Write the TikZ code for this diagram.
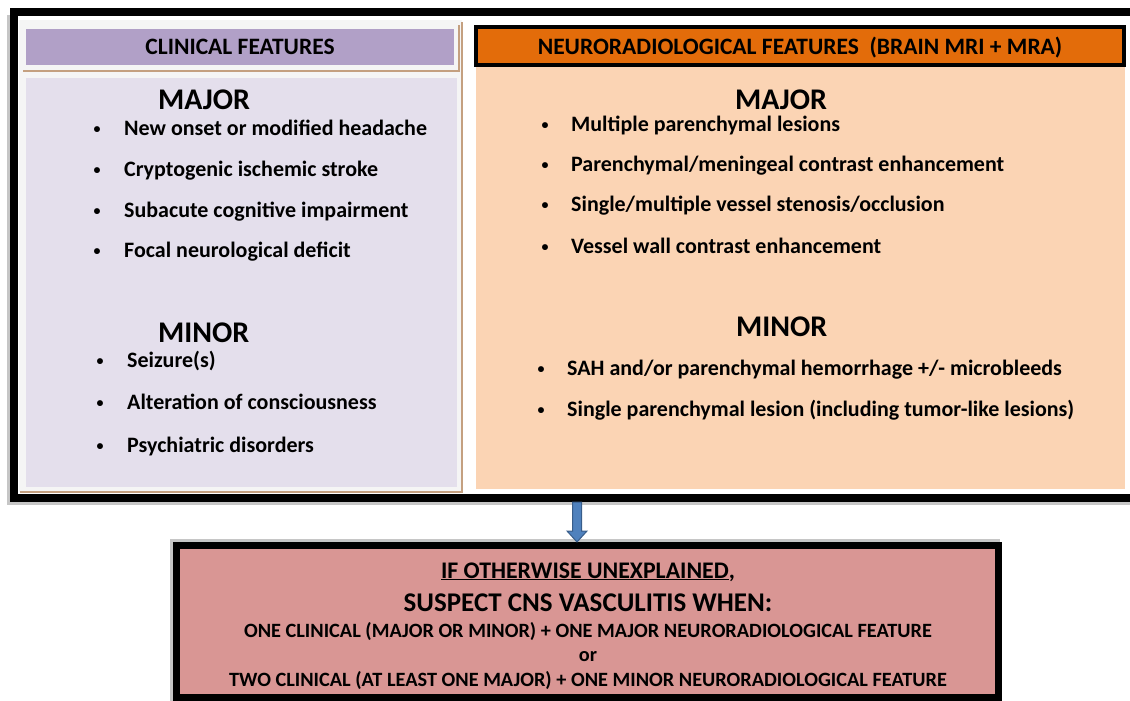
\documentclass[tikz,border=0pt]{standalone}
\usepackage{fontspec}
\setmainfont{Carlito}
\usetikzlibrary{positioning,calc}
\definecolor{lavender}{RGB}{228,223,236}
\definecolor{clinpurple}{RGB}{177,160,199}
\definecolor{tanline}{RGB}{196,160,128}
\definecolor{radorange}{RGB}{227,108,10}
\definecolor{peach}{RGB}{251,212,180}
\definecolor{verdictrose}{RGB}{217,150,148}
\definecolor{arrowblue}{RGB}{79,129,189}
\definecolor{arrowedge}{RGB}{56,93,138}
\tikzset{
  item/.style={anchor=base west, inner sep=0pt, font=\fontsize{22}{26}\selectfont\bfseries},
  dot/.style={anchor=base, inner sep=0pt, font=\fontsize{14}{18}\selectfont\bfseries},
  grade/.style={anchor=base west, inner sep=0pt, font=\fontsize{30}{34}\selectfont\bfseries},
  headbox/.style={minimum height=36pt, inner sep=0pt, font=\fontsize{23.5}{27}\selectfont\bfseries},
  rule/.style={anchor=base, inner sep=0pt, font=\fontsize{20.3}{24}\selectfont\bfseries},
  blockarrow/.style={fill=arrowblue, draw=arrowedge, line width=1pt, line join=miter}
}
\begin{document}
\begin{tikzpicture}[x=1pt, y=-1pt]
  \useasboundingbox (0,0) rectangle (1130,701);
  \clip (0,0) rectangle (1130,701);
  % outer frame
  \fill[gray!45] (7,15) rectangle (1140,505);
  \node[draw, fill=white, line width=8pt, minimum width=1122pt, minimum height=485.5pt,
    inner sep=0pt] (frame) at (575,255.25) {};
  % clinical panel
  \fill[gray!8] (19,20) rectangle (462,492);
  \draw[tanline, line width=1.5pt] (462,22) -- (462,492) -- (20,492);
  \fill[lavender] (26,78) rectangle (457,487);
  \draw[tanline, line width=1.5pt] (23,71) -- (459,71) -- (459,25);
  \node[headbox, fill=clinpurple, minimum width=428pt, text depth=0pt] (clinhead) at (240,47) {CLINICAL FEATURES};
  \node[grade] (cmajor) at (158,109) {MAJOR};
  \node[dot] at (97,133) {\textbullet};
  \node[item] (cmaj1) at (124,135) {New onset or modified headache};
  \node[dot] at (97,174) {\textbullet};
  \node[item] (cmaj2) at (124,176) {Cryptogenic ischemic stroke};
  \node[dot] at (97,215) {\textbullet};
  \node[item] (cmaj3) at (124,217) {Subacute cognitive impairment};
  \node[dot] at (97,255) {\textbullet};
  \node[item] (cmaj4) at (124,257) {Focal neurological deficit};
  \node[grade] (cminor) at (158,342) {MINOR};
  \node[dot] at (100,365) {\textbullet};
  \node[item] (cmin1) at (127,367) {Seizure(s)};
  \node[dot] at (100,407) {\textbullet};
  \node[item] (cmin2) at (127,409) {Alteration of consciousness};
  \node[dot] at (100,450) {\textbullet};
  \node[item] (cmin3) at (127,452) {Psychiatric disorders};
  % neuroradiological panel
  \fill[peach] (476,67) rectangle (1125,489);
  \node[headbox, draw, line width=4pt, fill=radorange, minimum width=648pt, minimum height=38pt,
    text depth=0pt] (radhead) at (800,46) {NEURORADIOLOGICAL FEATURES~~(BRAIN MRI + MRA)};
  \node[grade] (rmajor) at (735,109) {MAJOR};
  \node[dot] at (545,129) {\textbullet};
  \node[item] (rmaj1) at (571,131) {Multiple parenchymal lesions};
  \node[dot] at (545,169) {\textbullet};
  \node[item] (rmaj2) at (571,171) {Parenchymal/meningeal contrast enhancement};
  \node[dot] at (545,209) {\textbullet};
  \node[item] (rmaj3) at (571,211) {Single/multiple vessel stenosis/occlusion};
  \node[dot] at (545,251) {\textbullet};
  \node[item] (rmaj4) at (571,253) {Vessel wall contrast enhancement};
  \node[grade] (rminor) at (736,336) {MINOR};
  \node[dot] at (541,373) {\textbullet};
  \node[item] (rmin1) at (567,375) {SAH and/or parenchymal hemorrhage +/- microbleeds};
  \node[dot] at (541,414) {\textbullet};
  \node[item] (rmin2) at (567,416) {Single parenchymal lesion (including tumor-like lesions)};
  % verdict box
  \fill[gray!45] (170,539) rectangle (1000,705);
  \node[draw, fill=verdictrose, line width=7pt, minimum width=822pt, minimum height=152pt,
    inner sep=0pt] (verdict) at (587.5,621.5) {};
  \node[rule, font=\fontsize{23.8}{27}\selectfont\bfseries] (unexpl) at (588,578)
    {\underline{IF OTHERWISE UNEXPLAINED},};
  \node[rule, font=\fontsize{27}{31}\selectfont\bfseries] (suspect) at (588,611)
    {SUSPECT CNS VASCULITIS WHEN:};
  \node[rule] (combo1) at (588,637) {ONE CLINICAL (MAJOR OR MINOR) + ONE MAJOR NEURORADIOLOGICAL FEATURE};
  \node[rule] (orword) at (588,661) {or};
  \node[rule] (combo2) at (588,686) {TWO CLINICAL (AT LEAST ONE MAJOR) + ONE MINOR NEURORADIOLOGICAL FEATURE};
  % arrow
  \coordinate (atop) at (577,0 |- frame.south);
  \coordinate (atip) at (atop |- verdict.north);
  \filldraw[blockarrow] ($(atop)+(-4.5,0)$) -- ($(atip)+(-4.5,-11)$) -- ($(atip)+(-10,-11)$)
    -- (atip) -- ($(atip)+(10,-11)$) -- ($(atip)+(4.5,-11)$) -- ($(atop)+(4.5,0)$) -- cycle;
\end{tikzpicture}
\end{document}
